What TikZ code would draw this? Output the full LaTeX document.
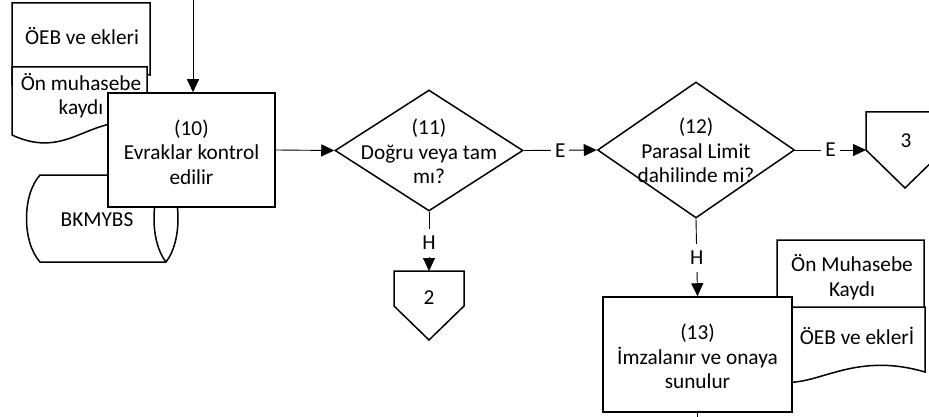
\documentclass[tikz,border=0pt]{standalone}
\usepackage{fontspec}
\setmainfont{Carlito}
\usetikzlibrary{shapes.geometric,arrows.meta}
\begin{document}
\begin{tikzpicture}[x=1pt,y=-1pt,
  shapeline/.style={draw=black,line width=1.5pt,fill=white,line join=miter},
  procbox/.style={shapeline,rectangle,inner sep=0pt},
  decision/.style={shapeline,diamond,inner sep=0pt},
  txt/.style={font=\fontsize{21.3}{24.5}\selectfont,align=center,inner sep=0pt},
  conn/.style={draw=black,line width=0.9pt,-{Triangle[length=13pt,width=12pt]}},
  plainconn/.style={draw=black,line width=0.9pt},
  lbl/.style={font=\fontsize{21.3}{24}\selectfont,fill=white,inner xsep=4pt,inner ysep=0pt,minimum height=28pt}
]
\useasboundingbox (0,0) rectangle (929,417);
\clip (0,0) rectangle (929,417);

% ---- left documents ----
\draw[shapeline] (12,85) .. controls (70,112) and (90,60) .. (150,75) -- (150,3) -- (12,3) -- cycle;
\node[txt] (docA) at (82,36.5) {ÖEB ve ekleri};
\draw[shapeline] (12,135) .. controls (70,162) and (90,110) .. (147,125) -- (147,67) -- (12,67) -- cycle;
\node[txt] (docB) at (81,95.5) {Ön muhasebe\\kaydı};

% ---- stored data BKMYBS ----
\draw[shapeline] (40,175) -- (166,175) .. controls (182,195) and (182,242) .. (166,262) -- (40,262)
   .. controls (22,242) and (22,195) .. (40,175) -- cycle;
\draw[draw=black,line width=1.5pt] (166,175) .. controls (150,195) and (150,242) .. (166,262);
\node[txt] (dbA) at (97,220) {BKMYBS};

% ---- process 10 ----
\node[procbox,minimum width=167pt,minimum height=114pt] (b10) at (191.5,150) {};
\node[txt] (t10) at (191.5,152) {(10)\\Evraklar kontrol\\edilir};

% ---- decision 11 ----
\node[decision,minimum width=188pt,minimum height=121pt] (d11) at (429,150.5) {};
\node[txt] (t11) at (429,151.5) {(11)\\Doğru veya tam\\mı?};

% ---- decision 12 ----
\node[decision,minimum width=197pt,minimum height=136pt] (d12) at (696,150) {};
\node[txt] (t12) at (696,150.5) {(12)\\Parasal Limit\\dahilinde mi?};

% ---- off-page 2 ----
\draw[shapeline] (394,271) -- (464,271) -- (464,306) -- (429,340) -- (394,306) -- cycle;
\coordinate (op2n) at (429,271);
\node[txt] (t2) at (429,298) {2};

% ---- off-page 3 ----
\draw[shapeline] (866,112) -- (944,112) -- (944,150) -- (905,188) -- (866,150) -- cycle;
\coordinate (op3w) at (866,150);
\node[txt] (t3) at (906,141) {3};

% ---- right documents ----
\draw[shapeline] (777,330) .. controls (820,342) and (850,302) .. (924,320) -- (924,240) -- (777,240) -- cycle;
\node[txt] (docC) at (852,277) {Ön Muhasebe\\Kaydı};
\draw[shapeline] (777,381) .. controls (815,390) and (850,350) .. (925,372) -- (925,307) -- (777,307) -- cycle;
\node[txt] (docD) at (857,335.5) {ÖEB ve eklerİ};

% ---- process 13 ----
\node[procbox,minimum width=189pt,minimum height=115pt] (b13) at (697.5,354.5) {};
\node[txt] (t13) at (697.5,356.5) {(13)\\İmzalanır ve onaya\\sunulur};

% ---- connectors ----
\coordinate (topin) at (193,0);
\coordinate (botout) at (697,417);
\draw[conn] (topin) -- (topin |- b10.north);
\draw[conn] (b10.east) -- (d11.west);
\draw[conn] (d11.east) -- node[lbl] (e1) {E} (d12.west);
\draw[conn] (d12.east) -- node[lbl] (e2) {E} (op3w);
\draw[conn] (d11.south) -- node[lbl,pos=0.53] (h1) {H} (op2n);
\draw[conn] (d12.south) -- node[lbl] (h2) {H} (b13.north);
\draw[plainconn] (b13.south -| botout) -- (botout);
\end{tikzpicture}
\end{document}
